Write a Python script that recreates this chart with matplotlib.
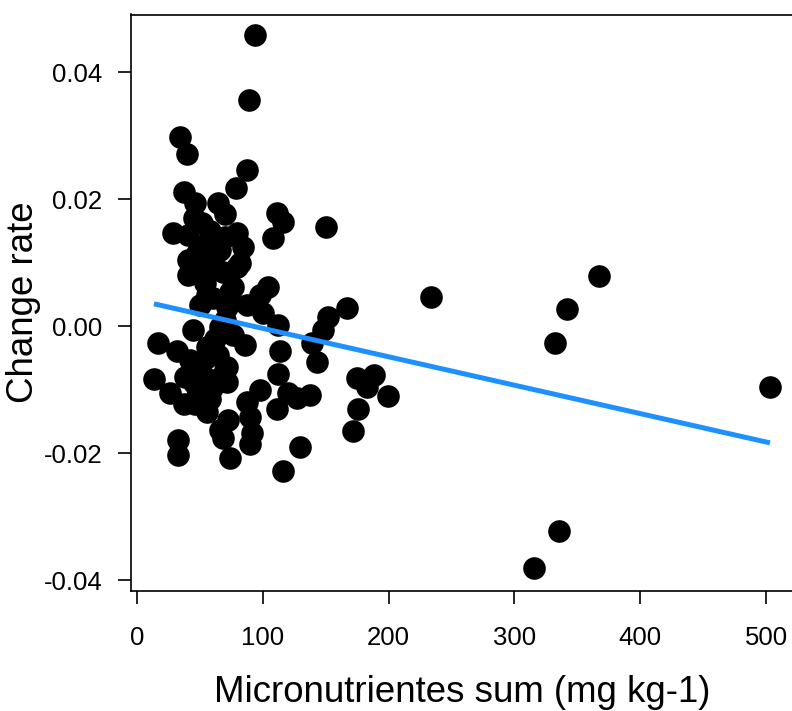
import matplotlib
matplotlib.use("Agg")
import matplotlib.pyplot as plt

plt.rcParams['font.family'] = ['Liberation Sans', 'DejaVu Sans']

# Micronutrient sum (mg kg-1)
x_vals = [
    93.8, 89.0, 34.0, 39.7, 87.4, 78.7, 37.0, 150.5, 233.6, 367.0,
    341.7, 332.0, 503.0, 335.0, 315.4, 167.0, 152.0, 148.0, 142.8, 138.8,
    174.6, 188.3, 182.5, 199.7, 175.9, 171.9,
    111.0, 116.2, 108.3, 46.1, 64.6, 69.9, 28.8, 40.8, 51.4, 55.4,
    79.2, 84.5, 66.0, 40.8, 60.6, 81.8, 40.8, 55.4, 79.2, 54.1,
    76.5, 55.4, 73.9, 104.3, 97.7, 87.2, 100.4, 50.1, 60.6, 71.2,
    45.0, 58.0, 70.0, 48.0, 68.0,
    16.9, 13.5, 31.5, 44.7, 66.0, 69.9, 76.5, 85.8, 55.4, 42.1,
    50.0, 71.2, 38.1, 60.6, 71.3, 26.2, 50.0, 112.3, 113.6, 112.3,
    97.7, 87.2, 111.0, 126.9, 137.5, 120.2, 89.8, 91.1, 89.8, 73.9,
    129.5, 116.2, 72.5, 69.9, 32.8, 32.8, 46.1, 55.4, 66.0, 68.6,
    59.3, 45.0, 55.0, 62.0, 48.0, 37.5, 52.0, 64.0, 58.0,
]
# Change rate
y_vals = [
    0.0458, 0.0356, 0.0298, 0.0271, 0.0246, 0.0217, 0.0211, 0.0156, 0.0046, 0.0079,
    0.0027, -0.0027, -0.0096, -0.0323, -0.0381, 0.0029, 0.0014, -0.0006, -0.0056, -0.0027,
    -0.0082, -0.0077, -0.0096, -0.0110, -0.0131, -0.0166,
    0.0178, 0.0164, 0.0138, 0.0193, 0.0193, 0.0177, 0.0146, 0.0143, 0.0162, 0.0130,
    0.0146, 0.0125, 0.0120, 0.0104, 0.0104, 0.0100, 0.0080, 0.0088, 0.0093, 0.0067,
    0.0062, 0.0049, 0.0054, 0.0062, 0.0049, 0.0033, 0.0020, 0.0033, 0.0044, 0.0030,
    0.0170, 0.0150, 0.0140, 0.0115, 0.0085,
    -0.0027, -0.0083, -0.0040, -0.0006, -0.0001, 0.0010, -0.0014, -0.0030, -0.0033, -0.0054,
    -0.0064, -0.0064, -0.0080, -0.0085, -0.0088, -0.0106, -0.0101, 0.0002, -0.0040, -0.0075,
    -0.0101, -0.0119, -0.0130, -0.0114, -0.0109, -0.0106, -0.0143, -0.0169, -0.0185, -0.0208,
    -0.0190, -0.0229, -0.0148, -0.0069, -0.0180, -0.0203, -0.0122, -0.0135, -0.0164, -0.0177,
    -0.0098, -0.0090, -0.0050, -0.0020, -0.0110, -0.0123, -0.0075, -0.0045, -0.0115,
]

# Fitted trend line
line_x = [13.5, 503.0]
line_y = [0.0035, -0.0184]

x_ticks = [0, 100, 200, 300, 400, 500]
y_ticks = [-0.04, -0.02, 0.00, 0.02, 0.04]
y_tick_labels = ["-0.04", "-0.02", "0.00", "0.02", "0.04"]

fig = plt.figure(figsize=(7.92, 7.11), dpi=100)
ax = fig.add_axes([130.7 / 792, 1 - 590.7 / 711, (794.6 - 130.7) / 792, (590.7 - 14.5) / 711])

ax.scatter(x_vals, y_vals, s=265, c='black', linewidths=0, zorder=2)
ax.plot(line_x, line_y, color='#1E90FF', lw=3.6, solid_capstyle='butt', zorder=3)

ax.set_xlim(-5.0, 522.6)
ax.set_ylim(-0.04168, 0.04906)

ax.set_xticks(x_ticks)
ax.set_xticklabels([str(t) for t in x_ticks])
ax.set_yticks(y_ticks)
ax.set_yticklabels(y_tick_labels)

for s in ax.spines.values():
    s.set_linewidth(1.2)
ax.spines['right'].set_visible(False)

ax.tick_params(axis='both', direction='out', length=9.4, width=1.2, labelsize=18.5, colors='black')
ax.tick_params(axis='x', pad=16)
ax.tick_params(axis='y', pad=11)

ax.set_xlabel("Micronutrientes sum (mg kg-1)", fontsize=26.4, labelpad=18)
ax.set_ylabel("Change rate", fontsize=26.4, labelpad=2)

fig.savefig("out.png", dpi=100)
